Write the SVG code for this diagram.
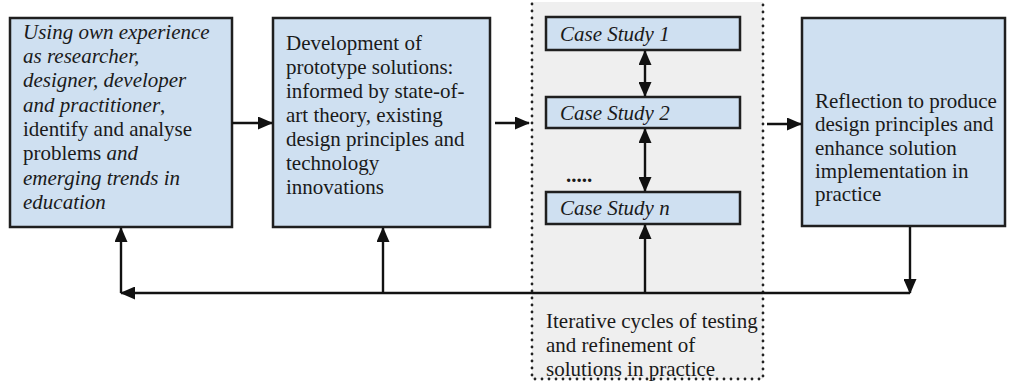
<svg xmlns="http://www.w3.org/2000/svg" width="1009" height="381" viewBox="0 0 1009 381">
  <style>
    .box { fill: #cfe0f1; stroke: #1f1f1f; stroke-width: 2.5; }
    .txt { font-family: "Liberation Serif", "Times New Roman", serif; font-size: 21px; fill: #1a1a1a; }
    .it { font-style: italic; }
    .line { fill: none; stroke: #111; stroke-width: 2.4; }
    .dots { fill: none; stroke: #222; stroke-width: 2.8; stroke-linecap: round; stroke-dasharray: 0 7; }
  </style>
  <defs>
    <marker id="head" viewBox="0 0 15 13" refX="14" refY="6.5" markerWidth="15" markerHeight="13" markerUnits="userSpaceOnUse" orient="auto-start-reverse">
      <path d="M0,0 L15,6.5 L0,13 Z" fill="#111"/>
    </marker>
  </defs>

  <rect width="1009" height="381" fill="#ffffff"/>

  <!-- testing zone: shaded band with dotted border -->
  <g id="testing-zone">
    <rect x="532" y="2" width="231" height="377" fill="#efefef"/>
    <path class="dots" d="M532,4 V379 H763 V4"/>
    <text class="txt" x="546" y="328">Iterative cycles of testing</text>
    <text class="txt" x="546" y="352">and refinement of</text>
    <text class="txt" x="546" y="376">solutions in practice</text>
    <text class="txt" x="566" y="182" font-weight="bold" font-size="23">.....</text>
  </g>

  <g id="experience">
    <rect class="box" x="10" y="18" width="222" height="209"/>
    <text class="txt it" x="23" y="39">Using own experience</text>
    <text class="txt it" x="23" y="63">as researcher,</text>
    <text class="txt it" x="23" y="87">designer, developer</text>
    <text class="txt" x="23" y="112"><tspan class="it">and practitioner</tspan>,</text>
    <text class="txt" x="23" y="136">identify and analyse</text>
    <text class="txt" x="23" y="160">problems <tspan class="it">and</tspan></text>
    <text class="txt it" x="23" y="185">emerging trends in</text>
    <text class="txt it" x="23" y="209">education</text>
  </g>

  <g id="prototype">
    <rect class="box" x="273" y="18" width="217" height="209"/>
    <text class="txt" x="286" y="50">Development of</text>
    <text class="txt" x="286" y="74">prototype solutions:</text>
    <text class="txt" x="286" y="98">informed by state-of-</text>
    <text class="txt" x="286" y="122">art theory, existing</text>
    <text class="txt" x="286" y="146">design principles and</text>
    <text class="txt" x="286" y="170">technology</text>
    <text class="txt" x="286" y="194">innovations</text>
  </g>

  <g id="case-study-1">
    <rect class="box" x="546" y="17" width="194" height="33"/>
    <text class="txt it" x="560" y="41">Case Study 1</text>
  </g>
  <g id="case-study-2">
    <rect class="box" x="546" y="97" width="194" height="31"/>
    <text class="txt it" x="560" y="120">Case Study 2</text>
  </g>
  <g id="case-study-n">
    <rect class="box" x="546" y="192" width="194" height="32"/>
    <text class="txt it" x="560" y="215">Case Study n</text>
  </g>

  <g id="reflection">
    <rect class="box" x="802" y="18" width="203" height="208"/>
    <text class="txt" x="815" y="108">Reflection to produce</text>
    <text class="txt" x="815" y="131">design principles and</text>
    <text class="txt" x="815" y="155">enhance solution</text>
    <text class="txt" x="815" y="178">implementation in</text>
    <text class="txt" x="815" y="201">practice</text>
  </g>

  <g id="connectors">
    <path class="line" d="M232,123 H272" marker-end="url(#head)"/>
    <path class="line" d="M495,123 H529" marker-end="url(#head)"/>
    <path class="line" d="M767,124 H801" marker-end="url(#head)"/>
    <path class="line" d="M645,51 V96" marker-start="url(#head)" marker-end="url(#head)"/>
    <path class="line" d="M645,129 V191" marker-start="url(#head)" marker-end="url(#head)"/>
    <path class="line" d="M910,227 V293" marker-end="url(#head)"/>
    <path class="line" d="M910,293 H121" marker-end="url(#head)"/>
    <path class="line" d="M121,293 V228" marker-end="url(#head)"/>
    <path class="line" d="M383,293 V228" marker-end="url(#head)"/>
    <path class="line" d="M645,293 V225" marker-end="url(#head)"/>
  </g>
</svg>
